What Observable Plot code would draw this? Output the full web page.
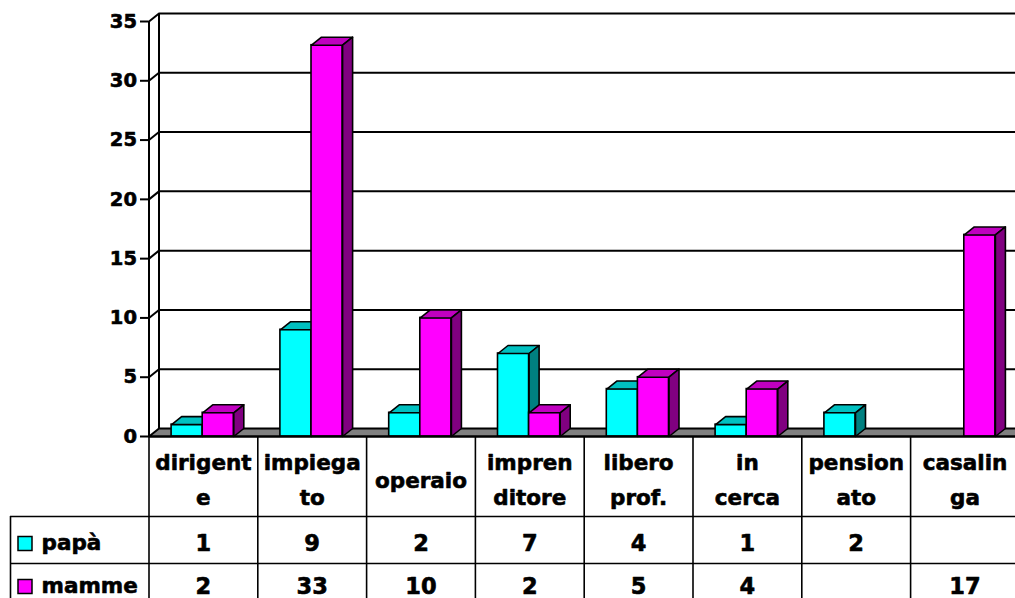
<!DOCTYPE html>
<html>
<head>
<meta charset="utf-8">
<script src="https://cdn.jsdelivr.net/npm/d3@7"></script>
<script src="https://cdn.jsdelivr.net/npm/@observablehq/plot@0.6"></script>
<style>
  html, body { margin: 0; padding: 0; background: #ffffff; overflow: hidden; }
  #chart svg { display: block; }
</style>
</head>
<body>
<div id="chart"></div>
<script>
// ---- data ----
const categories = ["dirigente", "impiegato", "operaio", "imprenditore", "libero prof.", "in cerca", "pensionato", "casalinga"];
const categoryLabels = ["dirigent\ne", "impiega\nto", "operaio", "impren\nditore", "libero\nprof.", "in\ncerca", "pension\nato", "casalin\nga"];
const papa = [1, 9, 2, 7, 4, 1, 2, null];
const mamme = [2, 33, 10, 2, 5, 4, null, 17];
const seriesNames = ["papà", "mamme"];
const yTicks = [0, 5, 10, 15, 20, 25, 30, 35];

// ---- layout ----
const W = 1015, H = 598;
const X0 = 148.5, XU = 108.8;          // px of category 0 start, px per category
const Y0 = 436, YU = 415 / 35;          // px of value 0, px per unit
const DX = 10 / XU, DY = 8 / YU;        // 3D depth offset in data units
const xPx = px => (px - X0) / XU;       // layout helper: px -> x units
const below = px => -px / YU;           // layout helper: px below zero line -> y units
const barOff = 22.6 / XU, barW = 31.1 / XU;

const colors = {
  "papà": {front: "#00ffff", top: "#00c0c0", side: "#008080"},
  "mamme": {front: "#ff00ff", top: "#c000c0", side: "#800080"}
};
const seriesValues = [papa, mamme];

// bars
const bars = [];
seriesValues.forEach((vals, s) => {
  vals.forEach((v, i) => {
    if (v == null) return;
    const x0 = i + barOff + s * barW;
    bars.push({series: seriesNames[s], cat: categories[i], v, x0, x1: x0 + barW});
  });
});
function faces(series) {
  const b = bars.filter(d => d.series === series);
  const tops = [], sides = [];
  b.forEach((d, k) => {
    const id = series + k;
    [[d.x0, d.v], [d.x1, d.v], [d.x1 + DX, d.v + DY], [d.x0 + DX, d.v + DY], [d.x0, d.v]]
      .forEach(([x, y]) => tops.push({id, x, y}));
    [[d.x1, 0], [d.x1, d.v], [d.x1 + DX, d.v + DY], [d.x1 + DX, DY], [d.x1, 0]]
      .forEach(([x, y]) => sides.push({id, x, y}));
  });
  return {b, tops, sides};
}
const floor = [[0, 0], [8, 0], [8 + DX, DY], [DX, DY], [0, 0]].map(([x, y]) => ({x, y}));

const font = "DejaVu Sans";
const txt = {fontWeight: "bold", fontFamily: font, fill: "black", stroke: "black", strokeWidth: 0.6};
const barMarks = [];
seriesNames.forEach(name => {
  const f = faces(name);
  const c = colors[name];
  barMarks.push(
    Plot.rect(f.b, {x1: "x0", x2: "x1", y1: 0, y2: "v", fill: c.front, stroke: "black", strokeWidth: 1.6}),
    Plot.line(f.tops, {x: "x", y: "y", z: "id", fill: c.top, stroke: "black", strokeWidth: 1.6, strokeLinejoin: "round"}),
    Plot.line(f.sides, {x: "x", y: "y", z: "id", fill: c.side, stroke: "black", strokeWidth: 1.6, strokeLinejoin: "round"})
  );
});

const catIdx = categories.map((c, i) => i);
const tableRows = [
  {name: "papà", vals: papa, yc: below(107), key: colors["papà"].front},
  {name: "mamme", vals: mamme, yc: below(150), key: colors["mamme"].front}
];
const cellText = [];
tableRows.forEach(r => r.vals.forEach((v, i) => { if (v != null) cellText.push({i, y: r.yc, t: String(v)}); }));

const chart = Plot.plot({
  width: W, height: H,
  marginTop: 0, marginRight: 0, marginBottom: 0, marginLeft: 0,
  x: {type: "linear", domain: [0, 8], range: [X0, X0 + 8 * XU], axis: null},
  y: {type: "linear", domain: [0, 35], range: [Y0, Y0 - 35 * YU], axis: null},
  style: {fontFamily: font, background: "white", overflow: "hidden"},
  marks: [
    // back wall gridlines
    Plot.ruleY(yTicks.filter(v => v > 0), {y: v => v + DY, x1: DX, x2: 8 + DX, stroke: "black", strokeWidth: 2}),
    // back wall left edge
    Plot.ruleX([DX], {y1: DY, y2: 35 + DY, stroke: "black", strokeWidth: 2}),
    // side wall diagonals
    Plot.link(yTicks.filter(v => v > 0), {x1: 0, y1: v => v, x2: DX, y2: v => v + DY, stroke: "black", strokeWidth: 2}),
    // floor
    Plot.line(floor, {x: "x", y: "y", fill: "#808080", stroke: "black", strokeWidth: 2}),
    // front axis
    Plot.ruleX([0], {y1: 0, y2: 35, stroke: "black", strokeWidth: 2}),
    Plot.ruleY(yTicks, {x1: xPx(140), x2: 0, stroke: "black", strokeWidth: 2}),
    Plot.text(yTicks, {x: 0, y: d => d, text: d => String(d), dx: -12, textAnchor: "end", fontSize: 19.5, ...txt}),
    ...barMarks,
    // data table grid
    Plot.ruleY([0], {x1: 0, x2: 8, stroke: "black", strokeWidth: 2}),
    Plot.ruleY([below(80), below(127)], {x1: xPx(10), x2: 8, stroke: "black", strokeWidth: 1.6}),
    Plot.ruleX(d3.range(0, 9), {y1: 0, y2: below(200), stroke: "black", strokeWidth: 1.6}),
    Plot.ruleX([xPx(10)], {y1: below(80), y2: below(200), stroke: "black", strokeWidth: 1.6}),
    // category labels
    Plot.text(catIdx, {x: i => i + 0.5, y: below(40), text: i => categoryLabels[i], fontSize: 21.5, lineHeight: 1.62, ...txt}),
    // values
    Plot.text(cellText, {x: d => d.i + 0.5, y: "y", text: "t", fontSize: 22.5, ...txt}),
    // legend keys and names
    Plot.dot(tableRows, {x: xPx(24.5), y: "yc", symbol: "square", r: 7.9, fill: "key", stroke: "black", strokeWidth: 1.5}),
    Plot.text(tableRows, {x: xPx(41), y: "yc", text: "name", textAnchor: "start", fontSize: 21.5, ...txt})
  ]
});
document.getElementById("chart").appendChild(chart);
</script>
</body>
</html>
